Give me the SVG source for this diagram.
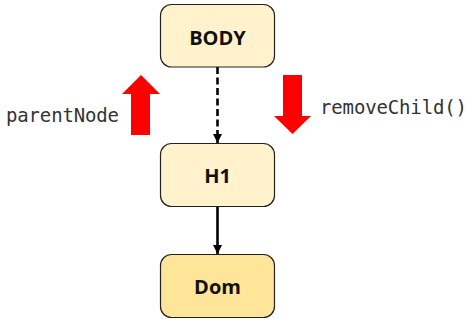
<svg xmlns="http://www.w3.org/2000/svg" width="475" height="325" viewBox="0 0 475 325">
<defs>
<style>
.box{stroke:#222;stroke-width:1.2}
.light{fill:#FFF2CC}
.dark{fill:#FFE599}
.lbl{font-family:"Open Sans","Liberation Sans",sans-serif;font-weight:700;font-size:20px;fill:#111;text-anchor:middle;dominant-baseline:central}
.code{font-family:"DejaVu Sans Mono","Liberation Mono",monospace;font-size:19px;fill:#333}
.conn{stroke:#000;stroke-width:2.6;fill:none}
.red{fill:#FF0000}
</style>
<marker id="ah" viewBox="0 0 10 10" refX="10" refY="5" markerWidth="3.6" markerHeight="3.6" orient="auto" markerUnits="strokeWidth">
<path d="M0,0 L10,5 L0,10 z" fill="#000"/>
</marker>
</defs>
<g id="connectors">
<line class="conn" x1="217.5" y1="67" x2="217.5" y2="143" stroke-dasharray="7,3.5" marker-end="url(#ah)"/>
<line class="conn" x1="217.5" y1="207" x2="217.5" y2="254" marker-end="url(#ah)"/>
</g>
<g id="body">
<rect class="box light" x="160.5" y="4.5" width="114" height="62.5" rx="11"/>
<text class="lbl" x="217.5" y="37">BODY</text>
</g>
<g id="h1">
<rect class="box light" x="160.5" y="143.5" width="114" height="63" rx="11"/>
<text class="lbl" x="217.5" y="175">H1</text>
</g>
<g id="dom">
<rect class="box dark" x="160.5" y="254.5" width="114" height="63" rx="11"/>
<text class="lbl" x="217.5" y="286">Dom</text>
</g>
<g id="parentNode">
<polygon class="red" points="131,135 150,135 150,94 160,94 141,75 122,94 131,94"/>
<text class="code" x="6" y="122" textLength="113" lengthAdjust="spacing">parentNode</text>
</g>
<g id="removeChild">
<polygon class="red" points="283,75 302,75 302,116 311,116 292.5,134 274,116 283,116"/>
<text class="code" x="320" y="114" textLength="147" lengthAdjust="spacing">removeChild()</text>
</g>
</svg>
